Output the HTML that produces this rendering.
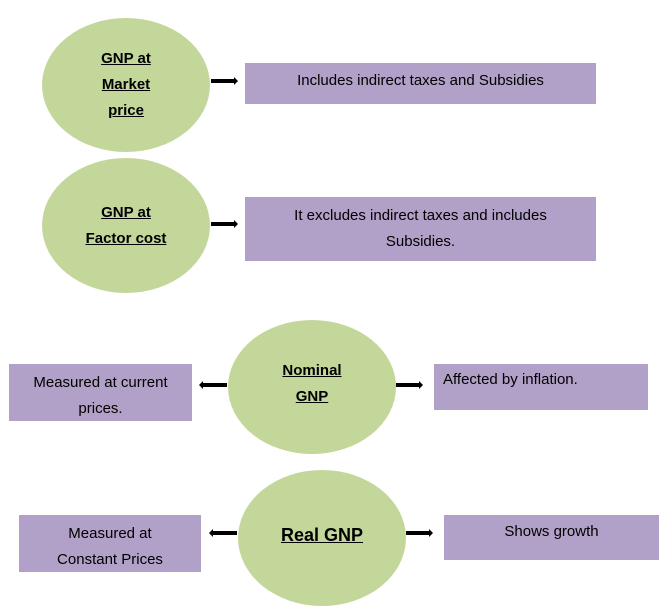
<!DOCTYPE html>
<html><head><style>
body{margin:0;width:672px;height:609px;background:#fff;position:relative;overflow:hidden;font-family:"Liberation Sans",sans-serif;color:#000}
.e{position:absolute;background:#c4d79b;border-radius:50%;display:flex;flex-direction:column;align-items:center;justify-content:center;font-weight:bold;text-decoration:underline;font-size:15px;line-height:26px;text-align:center}
.b{position:absolute;background:#b1a0c7;font-size:15px;line-height:26px;text-align:center;box-sizing:border-box;padding-top:4px}
.a{position:absolute;height:4px;background:#000}
.r:after{content:"";position:absolute;right:-3px;top:-2px;border-left:4px solid #000;border-top:4px solid transparent;border-bottom:4px solid transparent}
.l:before{content:"";position:absolute;left:-3px;top:-2px;border-right:4px solid #000;border-top:4px solid transparent;border-bottom:4px solid transparent}
</style></head><body>
<div class="e" style="left:42px;top:18px;width:168px;height:134px"><span>GNP at</span><span>Market</span><span>price</span></div>
<div class="a r" style="left:211px;top:79px;width:24px"></div>
<div class="b" style="left:245px;top:63px;width:351px;height:41px;padding-top:5px">Includes indirect taxes and Subsidies</div>

<div class="e" style="left:42px;top:158px;width:168px;height:135px"><span>GNP at</span><span>Factor cost</span></div>
<div class="a r" style="left:211px;top:222px;width:24px"></div>
<div class="b" style="left:245px;top:197px;width:351px;height:64px;padding-top:6px">It excludes indirect taxes and includes<br>Subsidies.</div>

<div class="e" style="left:228px;top:320px;width:168px;height:134px;justify-content:flex-start;padding-top:38px;box-sizing:border-box"><span>Nominal</span><span>GNP</span></div>
<div class="a l" style="left:202px;top:383px;width:25px"></div>
<div class="b" style="left:9px;top:364px;width:183px;height:57px;padding-top:6px">Measured at current<br>prices.</div>
<div class="a r" style="left:396px;top:383px;width:24px"></div>
<div class="b" style="left:434px;top:364px;width:214px;height:46px;text-align:left;padding-left:9px;padding-top:3px">Affected by inflation.</div>

<div class="e" style="left:238px;top:470px;width:168px;height:136px;justify-content:flex-start;padding-top:52px;box-sizing:border-box;font-size:18px"><span>Real GNP</span></div>
<div class="a r l" style="display:none"></div>
<div class="a l" style="left:212px;top:531px;width:25px"></div>
<div class="b" style="left:19px;top:515px;width:182px;height:57px;padding-top:6px">Measured at<br>Constant Prices</div>
<div class="a r" style="left:406px;top:531px;width:24px"></div>
<div class="b" style="left:444px;top:515px;width:215px;height:45px;padding-top:4px">Shows growth</div>
</body></html>
